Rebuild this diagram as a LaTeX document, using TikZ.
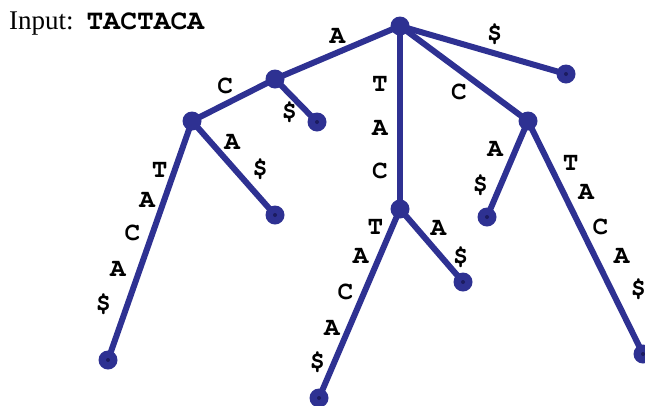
\documentclass[tikz,border=0pt]{standalone}
\usepackage[T1]{fontenc}
\usepackage{fontspec}
\setmainfont{Liberation Serif}
\newcommand\lblfont{\fontencoding{T1}\fontfamily{pcr}\fontseries{b}\selectfont}
\usetikzlibrary{backgrounds}
\definecolor{treeblue}{RGB}{46,49,146}
\definecolor{treedot}{RGB}{28,28,96}

\begin{document}
\begin{tikzpicture}[x=1pt,y=-1pt,
vtx/.style={circle,fill=treeblue,minimum size=19pt,inner sep=0pt},
leaf/.style={vtx,path picture={\fill[treedot] (path picture bounding box.center) circle (2pt);}},
branch/.style={draw=treeblue,line width=6pt},
lbl/.style={font=\fontsize{26}{26}\lblfont,inner sep=0pt} ]

\useasboundingbox (0,0) rectangle (645,405);

\node[anchor=base west,inner sep=0pt,font=\fontsize{27}{27}\selectfont] (input) at (9,29) {Input:\hspace{13pt}{\fontsize{28}{28}\lblfont TACTACA}};

\node[vtx] (r) at (400,26) {};
\node[leaf] (rs) at (566,74) {};
\node[vtx] (a) at (275,79) {};
\node[leaf] (as) at (317,122) {};
\node[vtx] (ac) at (192,121) {};
\node[leaf] (acta) at (108,360) {};
\node[leaf] (aca) at (275,215) {};
\node[vtx] (ta) at (400,209) {};
\node[leaf] (tata) at (319,398) {};
\node[leaf] (tas) at (463,282) {};
\node[vtx] (c) at (528,121) {};
\node[leaf] (cas) at (487,217) {};
\node[leaf] (ctac) at (643,354) {};

\begin{pgfonlayer}{background}
\draw[branch] (r.center) -- node[lbl,pos=.50,yshift=16pt] {A} (a.center);
\draw[branch] (r.center) -- node[lbl,pos=.57,yshift=19pt] {\$} (rs.center);
\draw[branch] (r.center) -- node[lbl,pos=.32,xshift=-20pt] {T} node[lbl,pos=.56,xshift=-20pt] {A} node[lbl,pos=.79,xshift=-20pt] {C} (ta.center);
\draw[branch] (r.center) -- node[lbl,pos=.46,yshift=-22pt] {C} (c.center);
\draw[branch] (a.center) -- node[lbl,pos=.60,yshift=18pt] {C} (ac.center);
\draw[branch] (a.center) -- node[lbl,pos=.77,xshift=-18pt] {\$} (as.center);
\draw[branch] (ac.center) -- node[lbl,pos=.205,xshift=-15pt] {T} node[lbl,pos=.33,xshift=-17pt] {A} node[lbl,pos=.47,xshift=-20pt] {C} node[lbl,pos=.62,xshift=-22pt] {A} node[lbl,pos=.77,xshift=-24pt] {\$} (acta.center);
\draw[branch] (ac.center) -- node[lbl,pos=.23,xshift=21pt] {A} node[lbl,pos=.52,xshift=25pt] {\$} (aca.center);
\draw[branch] (ta.center) -- node[lbl,pos=.095,xshift=-17pt] {T} node[lbl,pos=.25,xshift=-19pt] {A} node[lbl,pos=.44,xshift=-19pt] {C} node[lbl,pos=.63,xshift=-17pt] {A} node[lbl,pos=.81,xshift=-17pt] {\$} (tata.center);
\draw[branch] (ta.center) -- node[lbl,pos=.26,xshift=22pt] {A} node[lbl,pos=.66,xshift=19pt] {\$} (tas.center);
\draw[branch] (c.center) -- node[lbl,pos=.29,xshift=-21pt] {A} node[lbl,pos=.67,xshift=-20pt] {\$} (cas.center);
\draw[branch] (c.center) -- node[lbl,pos=.18,xshift=22pt] {T} node[lbl,pos=.305,xshift=23pt] {A} node[lbl,pos=.455,xshift=20pt] {C} node[lbl,pos=.58,xshift=27pt] {A} node[lbl,pos=.725,xshift=27pt] {\$} (ctac.center);
\end{pgfonlayer}

\end{tikzpicture}
\end{document}
